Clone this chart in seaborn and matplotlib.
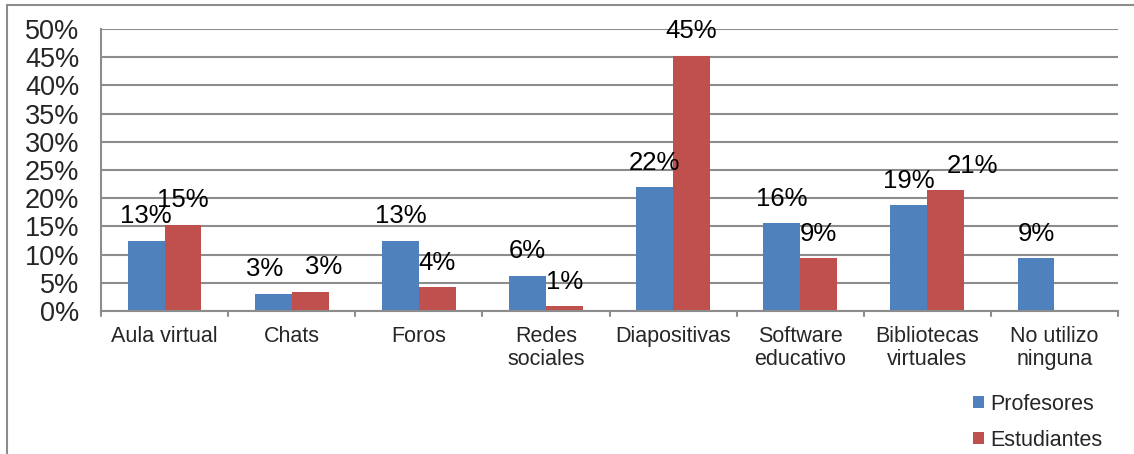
import matplotlib
matplotlib.use("Agg")
import matplotlib.pyplot as plt
import seaborn as sns
import pandas as pd
import numpy as np
from matplotlib.lines import Line2D
from matplotlib.patches import Patch

categories = ["Aula virtual", "Chats", "Foros", "Redes\nsociales", "Diapositivas",
              "Software\neducativo", "Bibliotecas\nvirtuales", "No utilizo\nninguna"]
profesores = [12.5, 3.1, 12.5, 6.25, 21.9, 15.6, 18.75, 9.4]
estudiantes = [15.3, 3.4, 4.2, 0.85, 45.3, 9.4, 21.4, 0.0]
series_names = ["Profesores", "Estudiantes"]
colors = ["#4F81BD", "#C0504D"]
yticks = [0, 5, 10, 15, 20, 25, 30, 35, 40, 45, 50]

df = pd.DataFrame({
    "cat": categories * 2,
    "serie": [series_names[0]] * len(categories) + [series_names[1]] * len(categories),
    "val": profesores + estudiantes,
})

sns.set_theme(style="white")
plt.rcParams["font.family"] = ["Liberation Sans", "DejaVu Sans"]

fig = plt.figure(figsize=(11.34, 4.54), dpi=100)
ax = fig.add_axes([101 / 1134, 1 - 311 / 454, (1118 - 101) / 1134, (311 - 29) / 454])

sns.barplot(data=df, x="cat", y="val", hue="serie", palette=colors, width=0.58,
            ax=ax, legend=False, saturation=1, order=categories,
            hue_order=series_names, linewidth=0)

ax.set_xlim(-0.5, len(categories) - 0.5)
ax.set_ylim(0, 50)
ax.set_yticks(yticks)
ax.set_yticklabels([f"{v}%" for v in yticks], fontsize=19.5)
ax.set_xticks(range(len(categories)))
ax.set_xticklabels(categories, fontsize=15.5, linespacing=1.1)
ax.set_xlabel("")
ax.set_ylabel("")
ax.tick_params(axis="x", length=0, pad=11)
ax.tick_params(axis="y", length=4.5, width=1.2, color="#888888", direction="out", pad=11)

ax.yaxis.grid(True, color="#8c8c8c", linewidth=1.5)
ax.set_axisbelow(True)
for s in ["top", "right"]:
    ax.spines[s].set_visible(False)
for s in ["left", "bottom"]:
    ax.spines[s].set_color("#8c8c8c")
    ax.spines[s].set_linewidth(1.5)

# category boundary ticks on x axis
for b in np.arange(-0.5, len(categories), 1.0):
    ax.plot([b, b], [0, -0.9], color="#8c8c8c", lw=1.5, clip_on=False, zorder=5)

# data labels
label_fs = 18.5
labels = [[], []]
for si, (container, vals, other) in enumerate(zip(ax.containers, [profesores, estudiantes],
                                                   [estudiantes, profesores])):
    for bar, v, o in zip(container, vals, other):
        if v <= 0:
            labels[si].append(None)
            continue
        cx = bar.get_x() + bar.get_width() / 2
        dx = 0
        if abs(v - o) < 2:
            dx = -6 if si == 0 else 10
        t = ax.annotate(f"{int(v + 0.5)}%", (cx, bar.get_height()), xytext=(dx, 12.5),
                        textcoords="offset points", ha="center", va="baseline",
                        fontsize=label_fs, color="black")
        labels[si].append(t)

# push a student label right if its digits collide with the professor label
fig.canvas.draw()
renderer = fig.canvas.get_renderer()
em = label_fs * fig.dpi / 72
for tp, te in zip(labels[0], labels[1]):
    if tp is None or te is None:
        continue
    bp = tp.get_window_extent(renderer)
    be = te.get_window_extent(renderer)
    gp0, gp1 = bp.y0 + 0.21 * em, bp.y0 + 0.21 * em + 0.716 * em
    ge0, ge1 = be.y0 + 0.21 * em, be.y0 + 0.21 * em + 0.716 * em
    v_overlap = min(gp1, ge1) - max(gp0, ge0)
    h_overlap = bp.x1 - be.x0
    if v_overlap > 3 and h_overlap > 0:
        shift_px = h_overlap + 12
        x, y = te.get_position()
        te.set_position((x + shift_px * 72 / fig.dpi, y))

# legend
handles = [Patch(facecolor=c, edgecolor="none") for c in colors]
fig.legend(handles, series_names, loc="upper left", bbox_to_anchor=(962 / 1134, 1 - 383 / 454),
           frameon=False, fontsize=15.5, handlelength=0.5, handleheight=0.5,
           handletextpad=0.3, labelspacing=0.7, borderpad=0)

# outer chart frame
fig.add_artist(Line2D([7 / 1134, 1.0], [1 - 5 / 454, 1 - 5 / 454], color="#8c8c8c", lw=1.5))
fig.add_artist(Line2D([7 / 1134, 7 / 1134], [0, 1 - 5 / 454], color="#8c8c8c", lw=1.5))

fig.savefig("out.png", dpi=100, facecolor="white")
